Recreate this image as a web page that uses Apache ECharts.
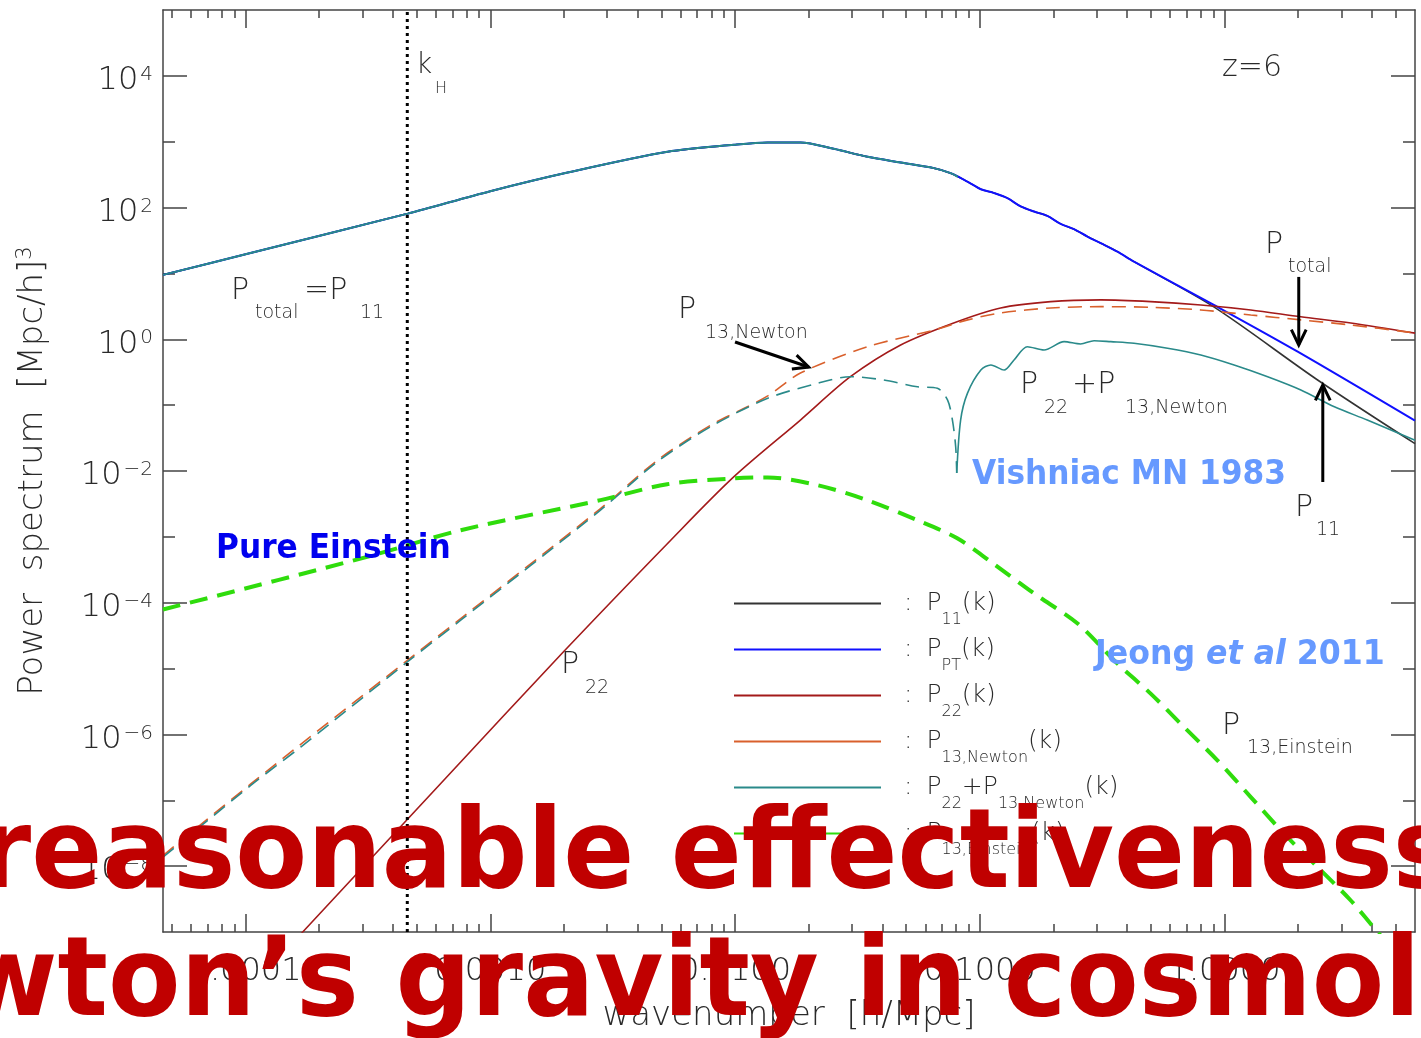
<!DOCTYPE html>
<html>
<head>
<meta charset="utf-8">
<title>Power spectrum z=6</title>
<script src="https://cdn.jsdelivr.net/npm/echarts@6/dist/echarts.min.js"></script>
<style>
  html, body { margin: 0; padding: 0; background: #fff; }
  #graph { width: 1421px; height: 1038px; }
</style>
</head>
<body>
<div id="graph"></div>
<script>
// values: k in h/Mpc, P in (Mpc/h)^3
var kTotal = [4.6e-5, 1.0e-4, 4.6e-4, 1.0e-3, 2.07e-3, 5.3e-3, 9.9e-3, 1.36e-2, 1.85e-2, 2.53e-2, 3.48e-2, 4.75e-2, 6.49e-2, 7.6e-2, 8.13e-2];
var pTotal = [9.5, 19.5, 81, 177, 340, 703, 897, 972, 972, 780, 590, 483, 397, 333, 293];

var k11 = [4.6e-5, 1.0e-4, 4.6e-4, 1.0e-3, 2.07e-3, 5.3e-3, 9.9e-3, 1.36e-2, 1.85e-2, 2.53e-2, 3.48e-2, 4.75e-2, 6.49e-2, 7.6e-2, 8.9e-2, 0.101, 0.1144, 0.1297, 0.147, 0.1666, 0.1888, 0.214, 0.2427, 0.2752, 0.312, 0.365, 0.4266, 0.904, 2.40, 6.0];
var p11 = [9.5, 19.5, 81, 177, 340, 703, 897, 972, 972, 780, 590, 483, 397, 333, 248, 190, 166, 139, 104, 87, 74.8, 56.5, 47, 36.3, 28.8, 21.4, 15.1, 3.10, 0.241, 0.026];

var kPT = [4.6e-5, 1.0e-4, 4.6e-4, 1.0e-3, 2.07e-3, 5.3e-3, 9.9e-3, 1.36e-2, 1.85e-2, 2.53e-2, 3.48e-2, 4.75e-2, 6.49e-2, 7.6e-2, 8.9e-2, 0.101, 0.1144, 0.1297, 0.147, 0.1666, 0.1888, 0.214, 0.2427, 0.2752, 0.312, 0.365, 0.4266, 0.904, 1.99, 6.0];
var pPT = [9.5, 19.5, 81, 177, 340, 703, 897, 972, 972, 780, 590, 483, 397, 333, 248, 190, 166, 139, 104, 87, 74.8, 56.5, 47, 36.3, 28.8, 21.4, 15.1, 3.32, 0.648, 0.058];

var k22 = [1.5e-4, 1.69e-4, 6.44e-4, 2.0e-3, 5.46e-3, 9.9e-3, 1.85e-2, 2.96e-2, 4.75e-2, 7.82e-2, 0.1216, 0.195, 0.312, 0.499, 0.800, 1.28, 2.05, 3.28, 6.0];
var p22 = [5.9e-10, 9.5e-10, 2.0e-7, 1.83e-5, 8.9e-4, 8.2e-3, 5.94e-2, 0.270, 0.82, 1.77, 2.99, 3.73, 3.96, 3.73, 3.32, 2.79, 2.20, 1.77, 1.24];

var k13N = [4.6e-5, 1.05e-4, 4.58e-4, 2.82e-3, 4.81e-3, 7.94e-3, 1.08e-2, 1.36e-2, 1.85e-2, 3.48e-2, 6.49e-2, 8.93e-2, 0.1216, 0.195, 0.312, 0.499, 0.800, 1.28, 2.05, 3.28, 6.0];
var p13N = [1.45e-8, 1.77e-7, 1.33e-5, 2.68e-3, 1.45e-2, 4.95e-2, 8.8e-2, 0.138, 0.307, 0.772, 1.38, 1.97, 2.51, 2.99, 3.13, 3.06, 2.79, 2.34, 1.97, 1.65, 1.25];

// P22+P13,Newton : negative branch (|value|, dashed) and positive branch
var kNeg = [4.6e-5, 1.05e-4, 1.68e-4, 4.58e-4, 7.57e-4, 2.82e-3, 4.81e-3, 7.94e-3, 1.36e-2, 2.17e-2, 2.96e-2, 4.05e-2, 5.56e-2, 6.71e-2, 7.38e-2, 7.73e-2, 7.97e-2, 8.05e-2];
var pNeg = [1.37e-8, 1.68e-7, 6.44e-7, 1.26e-5, 5.42e-5, 2.55e-3, 1.38e-2, 4.70e-2, 0.127, 0.214, 0.270, 0.241, 0.190, 0.180, 0.120, 0.0594, 0.0233, 9.3e-3];
var kPos = [8.05e-2, 8.35e-2, 8.9e-2, 0.101, 0.111, 0.1257, 0.138, 0.1564, 0.183, 0.221, 0.258, 0.293, 0.343, 0.4266, 0.585, 0.800, 1.094, 1.50, 2.05, 2.81, 3.83, 6.0];
var pPos = [9.3e-3, 0.0594, 0.151, 0.341, 0.407, 0.341, 0.485, 0.772, 0.688, 0.920, 0.849, 0.952, 0.920, 0.869, 0.730, 0.577, 0.407, 0.270, 0.170, 0.0945, 0.0594, 0.0292];

var k13E = [4.6e-5, 3.14e-4, 7.57e-4, 2.82e-3, 5.28e-3, 9.9e-3, 1.36e-2, 2.17e-2, 3.47e-2, 5.56e-2, 8.09e-2, 0.111, 0.1666, 0.251, 0.365, 0.499, 0.682, 0.935, 1.28, 1.75, 2.40, 3.28, 4.28, 5.0];
var p13E = [7.88e-5, 4.97e-4, 1.26e-3, 3.61e-3, 6.3e-3, 7.72e-3, 8.0e-3, 6.1e-3, 3.61e-3, 1.79e-3, 9.5e-4, 4.17e-4, 1.38e-4, 4.83e-5, 1.19e-5, 4.17e-6, 1.30e-6, 4.04e-7, 1.12e-7, 3.11e-8, 9.66e-9, 3.01e-9, 9.4e-10, 5.1e-10];

// horizon scale k_H
var kH = 4.58e-4;

// arrows: [k start, P start, k end, P end]
var arrowNewton = [0.0100, 0.91, 0.0200, 0.379];
var arrowTotal = [2.01, 8.85, 2.01, 0.82];
var arrowP11 = [2.52, 6.8e-3, 2.52, 0.202];

var xMajor = [1e-4, 1e-3, 1e-2, 1e-1, 1];
var yMajor = [1e-8, 1e-6, 1e-4, 1e-2, 1, 1e2, 1e4];
var yMinor = [1e-7, 1e-5, 1e-3, 1e-1, 1e1, 1e3];
var xMinor = [];
[1e-5, 1e-4, 1e-3, 1e-2, 1e-1, 1].forEach(function (d) {
  [2, 3, 4, 5, 6, 7, 8, 9].forEach(function (m) {
    var v = m * d;
    if (v > 4.7e-5 && v < 5.9) xMinor.push(v);
  });
});

var KMIN = 4.6e-5, KMAX = 6.0, PMIN = 1e-9, PMAX = 1e5;
var FONT = 'DejaVu Sans';
var INK = '#2a2a2a';
var AXIS = '#444';

var chart = echarts.init(document.getElementById('graph'));

function pairs(ks, ps) {
  return ks.map(function (k, i) { return [k, ps[i]]; });
}

function curve(name, ks, ps, color, width, dash) {
  return {
    name: name, type: 'line', data: pairs(ks, ps),
    xAxisIndex: 0, yAxisIndex: 0,
    symbol: 'none', showSymbol: false, smooth: 0.3, silent: true,
    color: color, itemStyle: { color: color },
    lineStyle: { color: color, width: width, type: dash || 'solid' }
  };
}

function xAx(grid, pos, major) {
  return {
    gridIndex: grid, type: 'log', logBase: 10, min: KMIN, max: KMAX, position: pos,
    axisLine: { show: major, onZero: false, lineStyle: { color: AXIS, width: 1.5 } },
    axisTick: { show: true, inside: true, length: major ? 18 : 8, customValues: major ? xMajor : xMinor,
      lineStyle: { color: AXIS, width: 1.5 } },
    axisLabel: { show: false },
    splitLine: { show: false }
  };
}

function yAx(grid, pos, major) {
  return {
    gridIndex: grid, type: 'log', logBase: 10, min: PMIN, max: PMAX, position: pos,
    axisLine: { show: major, onZero: false, lineStyle: { color: AXIS, width: 1.5 } },
    axisTick: { show: true, inside: true, length: major ? 24 : 12, customValues: major ? yMajor : yMinor,
      lineStyle: { color: AXIS, width: 1.5 } },
    axisLabel: { show: false },
    splitLine: { show: false }
  };
}

var xBottom = xAx(0, 'bottom', true);
xBottom.axisLabel = {
  show: true, customValues: xMajor, margin: 24, color: INK,
  fontFamily: FONT, fontSize: 32, fontWeight: 200,
  formatter: function (v) { return v.toFixed(4); }
};
xBottom.name = 'wavenumber  [h/Mpc]';
xBottom.nameLocation = 'middle';
xBottom.nameGap = 67;
xBottom.nameMoveOverlap = false;
xBottom.nameTextStyle = { color: INK, fontFamily: FONT, fontSize: 34, fontWeight: 200 };

var yLeft = yAx(0, 'left', true);
yLeft.axisLabel = {
  show: true, customValues: yMajor, margin: 10,
  formatter: function (v) {
    var e = Math.round(Math.log10(v));
    return '{b|10}{s|' + (e < 0 ? '\u2212' + (-e) : e) + '}';
  },
  rich: {
    b: { color: INK, fontFamily: FONT, fontSize: 32, fontWeight: 200, lineHeight: 32, padding: [10, 0, 0, 0] },
    s: { color: INK, fontFamily: FONT, fontSize: 20, fontWeight: 200, lineHeight: 20, verticalAlign: 'top', padding: [5, 0, 0, 2] }
  }
};
yLeft.name = '{n|Power  spectrum  [Mpc/h]}{u|3}';
yLeft.nameLocation = 'middle';
yLeft.nameGap = 112;
yLeft.nameMoveOverlap = false;
yLeft.nameTextStyle = {
  rich: {
    n: { color: INK, fontFamily: FONT, fontSize: 34, fontWeight: 200, lineHeight: 36 },
    u: { color: INK, fontFamily: FONT, fontSize: 21, fontWeight: 200, lineHeight: 21, verticalAlign: 'top' }
  }
};

var legendText = {
  'P11': '{c|:}{p|P}{s|11}{p|(k)}',
  'PPT': '{c|:}{p|P}{s|PT}{p|(k)}',
  'P22': '{c|:}{p|P}{s|22}{p|(k)}',
  'P13N': '{c|:}{p|P}{s|13,Newton}{p|(k)}',
  'P22P13N': '{c|:}{p|P}{s|22}{p|+P}{s|13,Newton}{p|(k)}',
  'P13E': '{c|:}{p|P}{s|13,Einstein}{p|(k)}'
};

var horizon = {
  name: 'kH', type: 'line', data: [[kH, PMIN], [kH, PMAX]],
  xAxisIndex: 0, yAxisIndex: 0, symbol: 'none', showSymbol: false, silent: true,
  color: '#000', lineStyle: { color: '#000', width: 3, type: [3, 4] }
};

var option = {
  animation: false,
  backgroundColor: '#fff',
  grid: [
    { left: 163, top: 10, right: 6, bottom: 106, outerBoundsMode: 'none' },
    { left: 163, top: 10, right: 6, bottom: 106, outerBoundsMode: 'none' }
  ],
  xAxis: [xBottom, xAx(0, 'top', true), xAx(1, 'bottom', false), xAx(1, 'top', false)],
  yAxis: [yLeft, yAx(0, 'right', true), yAx(1, 'left', false), yAx(1, 'right', false)],
  legend: {
    data: ['P11', 'PPT', 'P22', 'P13N', 'P22P13N', 'P13E'],
    orient: 'vertical', left: 734, top: 591, padding: 0,
    icon: 'rect', itemWidth: 147, itemHeight: 2, itemGap: 9.5,
    itemStyle: { borderWidth: 0 },
    selectedMode: false,
    formatter: function (name) { return legendText[name]; },
    textStyle: {
      color: INK, fontFamily: FONT, fontWeight: 200,
      rich: {
        c: { color: INK, fontFamily: FONT, fontWeight: 200, fontSize: 25, lineHeight: 44, padding: [0, 14, 0, 18] },
        p: { color: INK, fontFamily: FONT, fontWeight: 200, fontSize: 25, lineHeight: 44 },
        s: { color: INK, fontFamily: FONT, fontWeight: 200, fontSize: 16, lineHeight: 16, verticalAlign: 'bottom', padding: [0, 0, -2, 0] }
      }
    }
  },
  series: [
    curve('P11', k11, p11, '#333', 1.6),
    curve('PPT', kPT, pPT, '#1010ff', 2),
    curve('P22', k22, p22, '#a31a1a', 1.6),
    curve('P13N', k13N, p13N, '#d9602c', 1.6, [14, 8]),
    curve('P22P13N neg', kNeg, pNeg, '#2a8a8a', 1.6, [14, 8]),
    curve('P22P13N', kPos, pPos, '#2a8a8a', 1.6),
    curve('P13E', k13E, p13E, '#2fdc0c', 4, [18, 10]),
    curve('Ptotal', kTotal, pTotal, '#2a8a8a', 2),
    horizon
  ]
};

chart.setOption(option);

// annotations
function txt(s, x, y, size) {
  return { type: 'text', x: x, y: y, z: 50,
    style: { text: s, fill: INK, font: '200 ' + size + 'px "' + FONT + '"', align: 'left', verticalAlign: 'middle' } };
}
function bold(s, x, y, color) {
  return { type: 'text', x: x, y: y, z: 50, scaleX: 0.92,
    style: { text: s, fill: color, font: 'bold 34px "' + FONT + '"', align: 'left', verticalAlign: 'middle' } };
}
function arrow(a) {
  var p0 = chart.convertToPixel({ xAxisIndex: 0, yAxisIndex: 0 }, [a[0], a[1]]);
  var p1 = chart.convertToPixel({ xAxisIndex: 0, yAxisIndex: 0 }, [a[2], a[3]]);
  var dx = p1[0] - p0[0], dy = p1[1] - p0[1], L = Math.sqrt(dx * dx + dy * dy);
  var ux = dx / L, uy = dy / L, h = 17, c = Math.cos(0.45), s = Math.sin(0.45);
  var w1 = [p1[0] - h * (ux * c - uy * s), p1[1] - h * (uy * c + ux * s)];
  var w2 = [p1[0] - h * (ux * c + uy * s), p1[1] - h * (uy * c - ux * s)];
  return [
    { type: 'line', z: 50, shape: { x1: p0[0], y1: p0[1], x2: p1[0], y2: p1[1] }, style: { stroke: '#000', lineWidth: 3 } },
    { type: 'polyline', z: 50, shape: { points: [w1, p1, w2] }, style: { stroke: '#000', lineWidth: 3, fill: null } }
  ];
}

var graphics = [
  txt('k', 416, 66, 28), txt('H', 435, 88.5, 16),
  txt('z=6', 1222, 68, 30),
  txt('P', 231, 291, 30), txt('total', 255, 313, 19), txt('=P', 304, 291, 30), txt('11', 360, 313, 19),
  txt('P', 678, 310, 30), txt('13,Newton', 705, 333, 19),
  txt('P', 1265, 245, 30), txt('total', 1288, 267, 19),
  txt('P', 1020, 385, 30), txt('22', 1044, 408, 19), txt('+P', 1072, 385, 30), txt('13,Newton', 1125, 408, 19),
  txt('P', 1295, 508, 30), txt('11', 1316, 530, 19),
  txt('P', 561, 665, 30), txt('22', 585, 688, 19),
  txt('P', 1222, 726, 30), txt('13,Einstein', 1247, 748, 19),
  bold('Vishniac MN 1983', 972, 475, '#6699ff'),
  bold('Pure Einstein', 216, 549, '#0000ee'),
  { type: 'text', x: 1095, y: 655, z: 50, scaleX: 0.93,
    style: { text: '{b|Jeong }{i|et al}{b| 2011}', fill: '#6699ff', verticalAlign: 'middle', align: 'left',
      rich: {
        b: { fill: '#6699ff', font: 'bold 34px "' + FONT + '"' },
        i: { fill: '#6699ff', font: 'italic bold 34px "' + FONT + '"' }
      } } },
  { type: 'text', x: -180, y: 858, z: 100, scaleX: 0.952,
    style: { text: 'Unreasonable effectiveness of', fill: '#c00000', font: 'bold 110px "' + FONT + '"', align: 'left', verticalAlign: 'middle' } },
  { type: 'text', x: -200, y: 986, z: 100, scaleX: 0.96,
    style: { text: 'Newton\u2019s gravity in cosmology', fill: '#c00000', font: 'bold 110px "' + FONT + '"', align: 'left', verticalAlign: 'middle' } }
];
graphics = graphics.concat(arrow(arrowNewton), arrow(arrowTotal), arrow(arrowP11));

chart.setOption({ graphic: graphics });
</script>
</body>
</html>
